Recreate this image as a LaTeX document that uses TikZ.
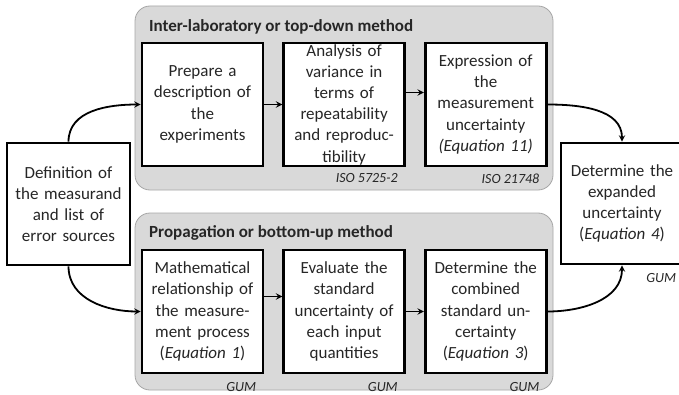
\documentclass[tikz,border=0pt]{standalone}
\usepackage{fontspec}
\setmainfont{Carlito}
\usetikzlibrary{positioning}

\definecolor{panelFill}{HTML}{D9D9D9}
\definecolor{panelDraw}{HTML}{A6A6A6}
\definecolor{textDark}{HTML}{262626}

\newcommand{\uncBlockWidth}{121pt}
\newcommand{\uncBlockHeight}{123pt}
\tikzset{
  unc base/.style={font=\fontsize{17}{21.2}\selectfont, text=textDark},
  unc arrow/.style={line width=1.8pt,->,>=stealth},
  unc panel/.style={draw=panelDraw, fill=panelFill, line width=0.8pt,
    rectangle, rounded corners=15pt},
  unc title/.style={font=\fontsize{17}{21.2}\selectfont\bfseries,
    anchor=west, inner sep=0pt},
  unc step/.style={draw, rectangle, line width=2.6pt, fill=white,
    minimum width=\uncBlockWidth, minimum height=\uncBlockHeight,
    text width=112pt, inner xsep=2pt, inner ysep=0pt, align=center},
  unc ref/.style={font=\fontsize{14}{16}\selectfont\itshape,
    anchor=north east, inner sep=0pt},
}

\begin{document}
\begin{tikzpicture}[
    unc base,
    x=1pt, y=1pt,
    panel/.style={unc panel},
    stepbox/.style={unc step},
    arrow/.style={unc arrow},
    ref/.style={unc ref}
]
\useasboundingbox (0,0) rectangle (679,394);

\node (toppanel) [panel, minimum width=418pt, minimum height=184pt] at (344,296) {};
\node (botpanel) [panel, minimum width=418pt, minimum height=177pt] at (344,92.5) {};
\node (toptitle) [unc title] at (149,367) {Inter-laboratory or top-down method};
\node (bottitle) [unc title] at (149,161) {Propagation or bottom-up method};

\node (define) [stepbox, minimum width=123pt, minimum height=122pt] at (68.5,190)
  {Definition of\\the measurand\\and list of\\error sources};
\node (expand) [stepbox, minimum width=122pt, minimum height=121pt] at (622,190.5)
  {Determine the\\expanded\\uncertainty\\(\textit{Equation 4})};

\node (inter1) [stepbox] at (202.5,289.5)
  {Prepare a\\description of\\the\\experiments};
\node (inter2) [stepbox, right=18pt of inter1]
  {Analysis of\\variance in\\terms of\\repeatability\\and reproduc-\\tibility};
\node (inter3) [stepbox, right=18pt of inter2]
  {Expression of\\the\\measurement\\uncertainty\\\textit{(Equation 11)}};

\node (prop1) [stepbox] at (202.5,82.5)
  {Mathematical\\relationship of\\the measure-\\ment process\\(\textit{Equation 1})};
\node (prop2) [stepbox, right=18pt of prop1]
  {Evaluate the\\standard\\uncertainty of\\each input\\quantities};
\node (prop3) [stepbox, right=18pt of prop2]
  {Determine the\\combined\\standard un-\\certainty\\(\textit{Equation 3})};

\node (ref2) [ref] at ([xshift=-8pt,yshift=-6pt]inter2.south east) {ISO 5725-2};
\node (ref3) [ref] at ([xshift=-8pt,yshift=-6pt]inter3.south east) {ISO 21748};
\node (gum1) [ref] at ([xshift=-8pt,yshift=-8pt]prop1.south east) {GUM};
\node (gum2) [ref] at ([xshift=-8pt,yshift=-8pt]prop2.south east) {GUM};
\node (gum3) [ref] at ([xshift=-8pt,yshift=-8pt]prop3.south east) {GUM};
\node (gum4) [ref] at ([xshift=-8pt,yshift=-8pt]expand.south east) {GUM};

\draw [arrow] (define.north) to[out=90,in=180] (inter1.west);
\draw [arrow] (define.south) to[out=-90,in=180] (prop1.west);
\draw [arrow] (inter1) -- (inter2);
\draw [arrow] ([yshift=12pt]inter2.east) -- ([yshift=12pt]inter3.west);
\draw [arrow] ([yshift=15pt]prop1.east) -- ([yshift=15pt]prop2.west);
\draw [arrow] (prop2) -- (prop3);
\draw [arrow] (inter3.east) to[out=0,in=90] (expand.north);
\draw [arrow] (prop3.east) to[out=0,in=-90] (expand.south);
\end{tikzpicture}
\end{document}
